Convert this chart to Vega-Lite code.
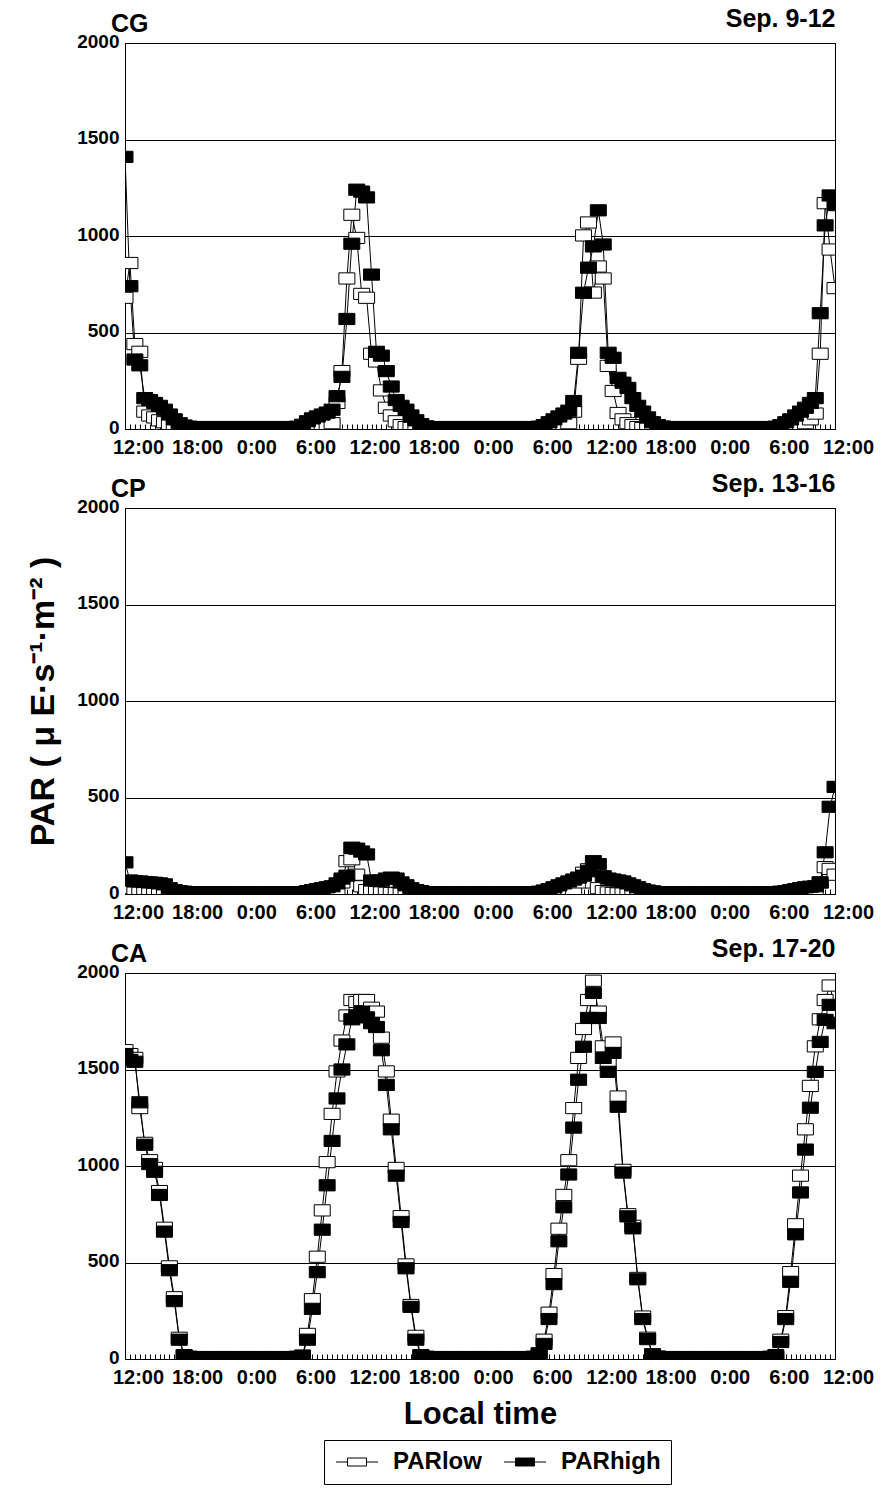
{
  "$schema": "https://vega.github.io/schema/vega-lite/v6.json",
  "background": "white",
  "padding": {"left": 26, "top": 5, "right": 2, "bottom": 5},
  "spacing": 79,
  "bounds": "flush",
  "datasets": {
    "CG": [
      {"t":0,"PARlow":680,"PARhigh":1410},{"t":0.5,"PARlow":860,"PARhigh":740},{"t":1,"PARlow":440,"PARhigh":360},{"t":1.5,"PARlow":400,"PARhigh":330},
      {"t":2,"PARlow":90,"PARhigh":160},{"t":2.5,"PARlow":70,"PARhigh":150},{"t":3,"PARlow":60,"PARhigh":135},{"t":3.5,"PARlow":45,"PARhigh":120},
      {"t":4,"PARlow":35,"PARhigh":100},{"t":4.5,"PARlow":25,"PARhigh":75},{"t":5,"PARlow":15,"PARhigh":50},{"t":5.5,"PARlow":8,"PARhigh":30},
      {"t":6,"PARlow":3,"PARhigh":18},{"t":6.5,"PARlow":0,"PARhigh":12},
      {"t":7,"PARlow":0,"PARhigh":10},{"t":7.5,"PARlow":0,"PARhigh":10},{"t":8,"PARlow":0,"PARhigh":10},{"t":8.5,"PARlow":0,"PARhigh":10},
      {"t":9,"PARlow":0,"PARhigh":10},{"t":9.5,"PARlow":0,"PARhigh":10},{"t":10,"PARlow":0,"PARhigh":10},{"t":10.5,"PARlow":0,"PARhigh":10},
      {"t":11,"PARlow":0,"PARhigh":10},{"t":11.5,"PARlow":0,"PARhigh":10},{"t":12,"PARlow":0,"PARhigh":10},{"t":12.5,"PARlow":0,"PARhigh":10},
      {"t":13,"PARlow":0,"PARhigh":10},{"t":13.5,"PARlow":0,"PARhigh":10},{"t":14,"PARlow":0,"PARhigh":10},{"t":14.5,"PARlow":0,"PARhigh":10},
      {"t":15,"PARlow":0,"PARhigh":10},{"t":15.5,"PARlow":0,"PARhigh":10},{"t":16,"PARlow":0,"PARhigh":10},{"t":16.5,"PARlow":0,"PARhigh":10},
      {"t":17,"PARlow":0,"PARhigh":10},{"t":17.5,"PARlow":0,"PARhigh":12},
      {"t":18,"PARlow":2,"PARhigh":22},{"t":18.5,"PARlow":5,"PARhigh":40},{"t":19,"PARlow":8,"PARhigh":55},{"t":19.5,"PARlow":12,"PARhigh":65},
      {"t":20,"PARlow":15,"PARhigh":75},{"t":20.5,"PARlow":20,"PARhigh":85},{"t":21,"PARlow":30,"PARhigh":100},{"t":21.5,"PARlow":135,"PARhigh":170},
      {"t":22,"PARlow":300,"PARhigh":270},{"t":22.5,"PARlow":780,"PARhigh":570},{"t":23,"PARlow":1110,"PARhigh":960},{"t":23.5,"PARlow":990,"PARhigh":1240},
      {"t":24,"PARlow":700,"PARhigh":1230},{"t":24.5,"PARlow":680,"PARhigh":1200},{"t":25,"PARlow":390,"PARhigh":800},{"t":25.5,"PARlow":350,"PARhigh":400},
      {"t":26,"PARlow":200,"PARhigh":380},{"t":26.5,"PARlow":110,"PARhigh":300},{"t":27,"PARlow":70,"PARhigh":220},{"t":27.5,"PARlow":40,"PARhigh":150},
      {"t":28,"PARlow":20,"PARhigh":120},{"t":28.5,"PARlow":10,"PARhigh":100},{"t":29,"PARlow":5,"PARhigh":70},{"t":29.5,"PARlow":2,"PARhigh":45},
      {"t":30,"PARlow":0,"PARhigh":25},{"t":30.5,"PARlow":0,"PARhigh":14},
      {"t":31,"PARlow":0,"PARhigh":10},{"t":31.5,"PARlow":0,"PARhigh":10},{"t":32,"PARlow":0,"PARhigh":10},{"t":32.5,"PARlow":0,"PARhigh":10},
      {"t":33,"PARlow":0,"PARhigh":10},{"t":33.5,"PARlow":0,"PARhigh":10},{"t":34,"PARlow":0,"PARhigh":10},{"t":34.5,"PARlow":0,"PARhigh":10},
      {"t":35,"PARlow":0,"PARhigh":10},{"t":35.5,"PARlow":0,"PARhigh":10},{"t":36,"PARlow":0,"PARhigh":10},{"t":36.5,"PARlow":0,"PARhigh":10},
      {"t":37,"PARlow":0,"PARhigh":10},{"t":37.5,"PARlow":0,"PARhigh":10},{"t":38,"PARlow":0,"PARhigh":10},{"t":38.5,"PARlow":0,"PARhigh":10},
      {"t":39,"PARlow":0,"PARhigh":10},{"t":39.5,"PARlow":0,"PARhigh":10},{"t":40,"PARlow":0,"PARhigh":10},{"t":40.5,"PARlow":0,"PARhigh":10},
      {"t":41,"PARlow":0,"PARhigh":10},{"t":41.5,"PARlow":0,"PARhigh":10},
      {"t":42,"PARlow":0,"PARhigh":12},{"t":42.5,"PARlow":2,"PARhigh":20},{"t":43,"PARlow":5,"PARhigh":35},{"t":43.5,"PARlow":10,"PARhigh":50},
      {"t":44,"PARlow":15,"PARhigh":65},{"t":44.5,"PARlow":20,"PARhigh":80},{"t":45,"PARlow":30,"PARhigh":95},{"t":45.5,"PARlow":90,"PARhigh":145},
      {"t":46,"PARlow":364,"PARhigh":395},{"t":46.5,"PARlow":1003,"PARhigh":706},{"t":47,"PARlow":1070,"PARhigh":836},{"t":47.5,"PARlow":707,"PARhigh":946},
      {"t":48,"PARlow":842,"PARhigh":1133},{"t":48.5,"PARlow":780,"PARhigh":956},{"t":49,"PARlow":327,"PARhigh":395},{"t":49.5,"PARlow":197,"PARhigh":369},
      {"t":50,"PARlow":83,"PARhigh":265},{"t":50.5,"PARlow":50,"PARhigh":240},{"t":51,"PARlow":30,"PARhigh":213},{"t":51.5,"PARlow":20,"PARhigh":160},
      {"t":52,"PARlow":10,"PARhigh":120},{"t":52.5,"PARlow":5,"PARhigh":90},{"t":53,"PARlow":2,"PARhigh":60},{"t":53.5,"PARlow":0,"PARhigh":35},
      {"t":54,"PARlow":0,"PARhigh":20},{"t":54.5,"PARlow":0,"PARhigh":13},
      {"t":55,"PARlow":0,"PARhigh":10},{"t":55.5,"PARlow":0,"PARhigh":10},{"t":56,"PARlow":0,"PARhigh":10},{"t":56.5,"PARlow":0,"PARhigh":10},
      {"t":57,"PARlow":0,"PARhigh":10},{"t":57.5,"PARlow":0,"PARhigh":10},{"t":58,"PARlow":0,"PARhigh":10},{"t":58.5,"PARlow":0,"PARhigh":10},
      {"t":59,"PARlow":0,"PARhigh":10},{"t":59.5,"PARlow":0,"PARhigh":10},{"t":60,"PARlow":0,"PARhigh":10},{"t":60.5,"PARlow":0,"PARhigh":10},
      {"t":61,"PARlow":0,"PARhigh":10},{"t":61.5,"PARlow":0,"PARhigh":10},{"t":62,"PARlow":0,"PARhigh":10},{"t":62.5,"PARlow":0,"PARhigh":10},
      {"t":63,"PARlow":0,"PARhigh":10},{"t":63.5,"PARlow":0,"PARhigh":10},{"t":64,"PARlow":0,"PARhigh":10},{"t":64.5,"PARlow":0,"PARhigh":10},
      {"t":65,"PARlow":0,"PARhigh":10},{"t":65.5,"PARlow":0,"PARhigh":10},
      {"t":66,"PARlow":0,"PARhigh":12},{"t":66.5,"PARlow":2,"PARhigh":20},{"t":67,"PARlow":5,"PARhigh":35},{"t":67.5,"PARlow":8,"PARhigh":50},
      {"t":68,"PARlow":12,"PARhigh":70},{"t":68.5,"PARlow":20,"PARhigh":90},{"t":69,"PARlow":30,"PARhigh":110},{"t":69.5,"PARlow":50,"PARhigh":135},
      {"t":70,"PARlow":80,"PARhigh":160},{"t":70.5,"PARlow":390,"PARhigh":600},{"t":71,"PARlow":1170,"PARhigh":1055},{"t":71.5,"PARlow":930,"PARhigh":1210},
      {"t":72,"PARlow":730,"PARhigh":1160}
    ],
    "CP": [
      {"t":0,"PARlow":40,"PARhigh":164},{"t":0.5,"PARlow":30,"PARhigh":70},{"t":1,"PARlow":25,"PARhigh":65},{"t":1.5,"PARlow":20,"PARhigh":65},
      {"t":2,"PARlow":15,"PARhigh":62},{"t":2.5,"PARlow":12,"PARhigh":60},{"t":3,"PARlow":10,"PARhigh":58},{"t":3.5,"PARlow":8,"PARhigh":55},
      {"t":4,"PARlow":5,"PARhigh":50},{"t":4.5,"PARlow":3,"PARhigh":30},{"t":5,"PARlow":2,"PARhigh":20},{"t":5.5,"PARlow":0,"PARhigh":15},
      {"t":6,"PARlow":0,"PARhigh":12},
      {"t":6.5,"PARlow":0,"PARhigh":8},{"t":7,"PARlow":0,"PARhigh":8},{"t":7.5,"PARlow":0,"PARhigh":8},{"t":8,"PARlow":0,"PARhigh":8},
      {"t":8.5,"PARlow":0,"PARhigh":8},{"t":9,"PARlow":0,"PARhigh":8},{"t":9.5,"PARlow":0,"PARhigh":8},{"t":10,"PARlow":0,"PARhigh":8},
      {"t":10.5,"PARlow":0,"PARhigh":8},{"t":11,"PARlow":0,"PARhigh":8},{"t":11.5,"PARlow":0,"PARhigh":8},{"t":12,"PARlow":0,"PARhigh":8},
      {"t":12.5,"PARlow":0,"PARhigh":8},{"t":13,"PARlow":0,"PARhigh":8},{"t":13.5,"PARlow":0,"PARhigh":8},{"t":14,"PARlow":0,"PARhigh":8},
      {"t":14.5,"PARlow":0,"PARhigh":8},{"t":15,"PARlow":0,"PARhigh":8},{"t":15.5,"PARlow":0,"PARhigh":8},{"t":16,"PARlow":0,"PARhigh":8},
      {"t":16.5,"PARlow":0,"PARhigh":8},{"t":17,"PARlow":0,"PARhigh":8},{"t":17.5,"PARlow":0,"PARhigh":8},
      {"t":18,"PARlow":0,"PARhigh":10},{"t":18.5,"PARlow":0,"PARhigh":15},{"t":19,"PARlow":2,"PARhigh":20},{"t":19.5,"PARlow":3,"PARhigh":25},
      {"t":20,"PARlow":5,"PARhigh":30},{"t":20.5,"PARlow":8,"PARhigh":35},{"t":21,"PARlow":10,"PARhigh":40},{"t":21.5,"PARlow":20,"PARhigh":55},
      {"t":22,"PARlow":60,"PARhigh":80},{"t":22.5,"PARlow":170,"PARhigh":95},{"t":23,"PARlow":180,"PARhigh":240},{"t":23.5,"PARlow":100,"PARhigh":235},
      {"t":24,"PARlow":40,"PARhigh":220},{"t":24.5,"PARlow":20,"PARhigh":205},{"t":25,"PARlow":15,"PARhigh":70},{"t":25.5,"PARlow":10,"PARhigh":68},
      {"t":26,"PARlow":8,"PARhigh":70},{"t":26.5,"PARlow":6,"PARhigh":80},{"t":27,"PARlow":5,"PARhigh":85},{"t":27.5,"PARlow":4,"PARhigh":80},
      {"t":28,"PARlow":3,"PARhigh":60},{"t":28.5,"PARlow":2,"PARhigh":45},{"t":29,"PARlow":1,"PARhigh":30},{"t":29.5,"PARlow":0,"PARhigh":20},
      {"t":30,"PARlow":0,"PARhigh":15},
      {"t":30.5,"PARlow":0,"PARhigh":8},{"t":31,"PARlow":0,"PARhigh":8},{"t":31.5,"PARlow":0,"PARhigh":8},{"t":32,"PARlow":0,"PARhigh":8},
      {"t":32.5,"PARlow":0,"PARhigh":8},{"t":33,"PARlow":0,"PARhigh":8},{"t":33.5,"PARlow":0,"PARhigh":8},{"t":34,"PARlow":0,"PARhigh":8},
      {"t":34.5,"PARlow":0,"PARhigh":8},{"t":35,"PARlow":0,"PARhigh":8},{"t":35.5,"PARlow":0,"PARhigh":8},{"t":36,"PARlow":0,"PARhigh":8},
      {"t":36.5,"PARlow":0,"PARhigh":8},{"t":37,"PARlow":0,"PARhigh":8},{"t":37.5,"PARlow":0,"PARhigh":8},{"t":38,"PARlow":0,"PARhigh":8},
      {"t":38.5,"PARlow":0,"PARhigh":8},{"t":39,"PARlow":0,"PARhigh":8},{"t":39.5,"PARlow":0,"PARhigh":8},{"t":40,"PARlow":0,"PARhigh":8},
      {"t":40.5,"PARlow":0,"PARhigh":8},{"t":41,"PARlow":0,"PARhigh":8},{"t":41.5,"PARlow":0,"PARhigh":8},
      {"t":42,"PARlow":0,"PARhigh":12},{"t":42.5,"PARlow":1,"PARhigh":18},{"t":43,"PARlow":2,"PARhigh":25},{"t":43.5,"PARlow":3,"PARhigh":35},
      {"t":44,"PARlow":5,"PARhigh":45},{"t":44.5,"PARlow":8,"PARhigh":55},{"t":45,"PARlow":10,"PARhigh":65},{"t":45.5,"PARlow":20,"PARhigh":75},
      {"t":46,"PARlow":60,"PARhigh":85},{"t":46.5,"PARlow":110,"PARhigh":95},{"t":47,"PARlow":128,"PARhigh":120},{"t":47.5,"PARlow":60,"PARhigh":170},
      {"t":48,"PARlow":30,"PARhigh":155},{"t":48.5,"PARlow":15,"PARhigh":92},{"t":49,"PARlow":8,"PARhigh":80},{"t":49.5,"PARlow":5,"PARhigh":75},
      {"t":50,"PARlow":3,"PARhigh":70},{"t":50.5,"PARlow":2,"PARhigh":65},{"t":51,"PARlow":1,"PARhigh":55},{"t":51.5,"PARlow":0,"PARhigh":45},
      {"t":52,"PARlow":0,"PARhigh":35},{"t":52.5,"PARlow":0,"PARhigh":25},{"t":53,"PARlow":0,"PARhigh":18},{"t":53.5,"PARlow":0,"PARhigh":14},
      {"t":54,"PARlow":0,"PARhigh":10},
      {"t":54.5,"PARlow":0,"PARhigh":8},{"t":55,"PARlow":0,"PARhigh":8},{"t":55.5,"PARlow":0,"PARhigh":8},{"t":56,"PARlow":0,"PARhigh":8},
      {"t":56.5,"PARlow":0,"PARhigh":8},{"t":57,"PARlow":0,"PARhigh":8},{"t":57.5,"PARlow":0,"PARhigh":8},{"t":58,"PARlow":0,"PARhigh":8},
      {"t":58.5,"PARlow":0,"PARhigh":8},{"t":59,"PARlow":0,"PARhigh":8},{"t":59.5,"PARlow":0,"PARhigh":8},{"t":60,"PARlow":0,"PARhigh":8},
      {"t":60.5,"PARlow":0,"PARhigh":8},{"t":61,"PARlow":0,"PARhigh":8},{"t":61.5,"PARlow":0,"PARhigh":8},{"t":62,"PARlow":0,"PARhigh":8},
      {"t":62.5,"PARlow":0,"PARhigh":8},{"t":63,"PARlow":0,"PARhigh":8},{"t":63.5,"PARlow":0,"PARhigh":8},{"t":64,"PARlow":0,"PARhigh":8},
      {"t":64.5,"PARlow":0,"PARhigh":8},{"t":65,"PARlow":0,"PARhigh":8},{"t":65.5,"PARlow":0,"PARhigh":8},
      {"t":66,"PARlow":0,"PARhigh":10},{"t":66.5,"PARlow":0,"PARhigh":12},{"t":67,"PARlow":0,"PARhigh":15},{"t":67.5,"PARlow":1,"PARhigh":20},
      {"t":68,"PARlow":2,"PARhigh":25},{"t":68.5,"PARlow":3,"PARhigh":30},{"t":69,"PARlow":5,"PARhigh":35},{"t":69.5,"PARlow":8,"PARhigh":38},
      {"t":70,"PARlow":10,"PARhigh":40},{"t":70.5,"PARlow":60,"PARhigh":60},{"t":71,"PARlow":139,"PARhigh":216},{"t":71.5,"PARlow":130,"PARhigh":452},
      {"t":72,"PARlow":100,"PARhigh":555}
    ],
    "CA": [
      {"t":0,"PARlow":1600,"PARhigh":1580},{"t":0.5,"PARlow":1580,"PARhigh":1550},{"t":1,"PARlow":1560,"PARhigh":1540},{"t":1.5,"PARlow":1300,"PARhigh":1330},
      {"t":2,"PARlow":1120,"PARhigh":1110},{"t":2.5,"PARlow":1030,"PARhigh":1010},{"t":3,"PARlow":990,"PARhigh":970},{"t":3.5,"PARlow":870,"PARhigh":850},
      {"t":4,"PARlow":680,"PARhigh":660},{"t":4.5,"PARlow":480,"PARhigh":460},{"t":5,"PARlow":320,"PARhigh":300},{"t":5.5,"PARlow":110,"PARhigh":100},
      {"t":6,"PARlow":20,"PARhigh":18},{"t":6.5,"PARlow":0,"PARhigh":12},
      {"t":7,"PARlow":0,"PARhigh":10},{"t":7.5,"PARlow":0,"PARhigh":10},{"t":8,"PARlow":0,"PARhigh":10},{"t":8.5,"PARlow":0,"PARhigh":10},
      {"t":9,"PARlow":0,"PARhigh":10},{"t":9.5,"PARlow":0,"PARhigh":10},{"t":10,"PARlow":0,"PARhigh":10},{"t":10.5,"PARlow":0,"PARhigh":10},
      {"t":11,"PARlow":0,"PARhigh":10},{"t":11.5,"PARlow":0,"PARhigh":10},{"t":12,"PARlow":0,"PARhigh":10},{"t":12.5,"PARlow":0,"PARhigh":10},
      {"t":13,"PARlow":0,"PARhigh":10},{"t":13.5,"PARlow":0,"PARhigh":10},{"t":14,"PARlow":0,"PARhigh":10},{"t":14.5,"PARlow":0,"PARhigh":10},
      {"t":15,"PARlow":0,"PARhigh":10},{"t":15.5,"PARlow":0,"PARhigh":10},{"t":16,"PARlow":0,"PARhigh":10},{"t":16.5,"PARlow":0,"PARhigh":10},
      {"t":17,"PARlow":0,"PARhigh":10},{"t":17.5,"PARlow":0,"PARhigh":12},
      {"t":18,"PARlow":15,"PARhigh":18},{"t":18.5,"PARlow":130,"PARhigh":100},{"t":19,"PARlow":310,"PARhigh":260},{"t":19.5,"PARlow":530,"PARhigh":450},
      {"t":20,"PARlow":770,"PARhigh":670},{"t":20.5,"PARlow":1020,"PARhigh":900},{"t":21,"PARlow":1270,"PARhigh":1130},{"t":21.5,"PARlow":1490,"PARhigh":1350},
      {"t":22,"PARlow":1650,"PARhigh":1500},{"t":22.5,"PARlow":1780,"PARhigh":1630},{"t":23,"PARlow":1860,"PARhigh":1760},{"t":23.5,"PARlow":1850,"PARhigh":1780},
      {"t":24,"PARlow":1860,"PARhigh":1800},{"t":24.5,"PARlow":1860,"PARhigh":1770},{"t":25,"PARlow":1820,"PARhigh":1740},{"t":25.5,"PARlow":1800,"PARhigh":1720},
      {"t":26,"PARlow":1665,"PARhigh":1600},{"t":26.5,"PARlow":1490,"PARhigh":1420},{"t":27,"PARlow":1240,"PARhigh":1190},{"t":27.5,"PARlow":990,"PARhigh":950},
      {"t":28,"PARlow":740,"PARhigh":710},{"t":28.5,"PARlow":490,"PARhigh":470},{"t":29,"PARlow":280,"PARhigh":270},{"t":29.5,"PARlow":120,"PARhigh":100},
      {"t":30,"PARlow":20,"PARhigh":18},{"t":30.5,"PARlow":0,"PARhigh":12},
      {"t":31,"PARlow":0,"PARhigh":10},{"t":31.5,"PARlow":0,"PARhigh":10},{"t":32,"PARlow":0,"PARhigh":10},{"t":32.5,"PARlow":0,"PARhigh":10},
      {"t":33,"PARlow":0,"PARhigh":10},{"t":33.5,"PARlow":0,"PARhigh":10},{"t":34,"PARlow":0,"PARhigh":10},{"t":34.5,"PARlow":0,"PARhigh":10},
      {"t":35,"PARlow":0,"PARhigh":10},{"t":35.5,"PARlow":0,"PARhigh":10},{"t":36,"PARlow":0,"PARhigh":10},{"t":36.5,"PARlow":0,"PARhigh":10},
      {"t":37,"PARlow":0,"PARhigh":10},{"t":37.5,"PARlow":0,"PARhigh":10},{"t":38,"PARlow":0,"PARhigh":10},{"t":38.5,"PARlow":0,"PARhigh":10},
      {"t":39,"PARlow":0,"PARhigh":10},{"t":39.5,"PARlow":0,"PARhigh":10},{"t":40,"PARlow":0,"PARhigh":10},{"t":40.5,"PARlow":0,"PARhigh":10},
      {"t":41,"PARlow":0,"PARhigh":10},{"t":41.5,"PARlow":0,"PARhigh":12},
      {"t":42,"PARlow":30,"PARhigh":26},{"t":42.5,"PARlow":100,"PARhigh":78},{"t":43,"PARlow":240,"PARhigh":207},{"t":43.5,"PARlow":440,"PARhigh":388},
      {"t":44,"PARlow":675,"PARhigh":610},{"t":44.5,"PARlow":850,"PARhigh":786},{"t":45,"PARlow":1030,"PARhigh":956},{"t":45.5,"PARlow":1300,"PARhigh":1199},
      {"t":46,"PARlow":1560,"PARhigh":1447},{"t":46.5,"PARlow":1710,"PARhigh":1618},{"t":47,"PARlow":1860,"PARhigh":1767},{"t":47.5,"PARlow":1960,"PARhigh":1897},
      {"t":48,"PARlow":1800,"PARhigh":1767},{"t":48.5,"PARlow":1620,"PARhigh":1560},{"t":49,"PARlow":1530,"PARhigh":1488},{"t":49.5,"PARlow":1640,"PARhigh":1586},
      {"t":50,"PARlow":1360,"PARhigh":1307},{"t":50.5,"PARlow":980,"PARhigh":966},{"t":51,"PARlow":750,"PARhigh":739},{"t":51.5,"PARlow":690,"PARhigh":677},
      {"t":52,"PARlow":420,"PARhigh":413},{"t":52.5,"PARlow":220,"PARhigh":207},{"t":53,"PARlow":110,"PARhigh":103},{"t":53.5,"PARlow":25,"PARhigh":21},
      {"t":54,"PARlow":0,"PARhigh":13},
      {"t":54.5,"PARlow":0,"PARhigh":10},{"t":55,"PARlow":0,"PARhigh":10},{"t":55.5,"PARlow":0,"PARhigh":10},{"t":56,"PARlow":0,"PARhigh":10},
      {"t":56.5,"PARlow":0,"PARhigh":10},{"t":57,"PARlow":0,"PARhigh":10},{"t":57.5,"PARlow":0,"PARhigh":10},{"t":58,"PARlow":0,"PARhigh":10},
      {"t":58.5,"PARlow":0,"PARhigh":10},{"t":59,"PARlow":0,"PARhigh":10},{"t":59.5,"PARlow":0,"PARhigh":10},{"t":60,"PARlow":0,"PARhigh":10},
      {"t":60.5,"PARlow":0,"PARhigh":10},{"t":61,"PARlow":0,"PARhigh":10},{"t":61.5,"PARlow":0,"PARhigh":10},{"t":62,"PARlow":0,"PARhigh":10},
      {"t":62.5,"PARlow":0,"PARhigh":10},{"t":63,"PARlow":0,"PARhigh":10},{"t":63.5,"PARlow":0,"PARhigh":10},{"t":64,"PARlow":0,"PARhigh":10},
      {"t":64.5,"PARlow":0,"PARhigh":10},{"t":65,"PARlow":0,"PARhigh":10},{"t":65.5,"PARlow":0,"PARhigh":12},
      {"t":66,"PARlow":10,"PARhigh":20},{"t":66.5,"PARlow":100,"PARhigh":88},{"t":67,"PARlow":222,"PARhigh":207},{"t":67.5,"PARlow":450,"PARhigh":400},
      {"t":68,"PARlow":698,"PARhigh":646},{"t":68.5,"PARlow":950,"PARhigh":863},{"t":69,"PARlow":1190,"PARhigh":1085},{"t":69.5,"PARlow":1415,"PARhigh":1302},
      {"t":70,"PARlow":1620,"PARhigh":1488},{"t":70.5,"PARlow":1760,"PARhigh":1643},{"t":71,"PARlow":1860,"PARhigh":1757},{"t":71.5,"PARlow":1935,"PARhigh":1835},
      {"t":72,"PARlow":1800,"PARhigh":1740}
    ]
  },
  "vconcat": [
    {
      "data": {"name": "CG"},
      "width": 710, "height": 386,
      "title": {"text": "CG", "anchor": "start", "frame": "group", "fontSize": 25, "dx": -14, "dy": 35},
      "transform": [{"fold": ["PARlow", "PARhigh"], "as": ["series", "par"]}],
      "layer": [
        {
          "mark": {"type": "line", "color": "black", "strokeWidth": 1, "clip": true},
          "encoding": {
            "x": {"field": "t", "type": "quantitative", "scale": {"domain": [0, 72], "nice": false},
              "axis": {"title": null, "tickCount": 144, "labelExpr": "datum.value % 6 === 0 ? ((datum.value + 12) % 24) + ':00' : ''", "labelOverlap": false, "labelFlush": false, "labelBound": false, "grid": false, "tickSize": -5, "labelPadding": 13, "labelOffset": 13, "labelFontSize": 20}},
            "y": {"field": "par", "type": "quantitative", "scale": {"domain": [0, 2000], "nice": false},
              "axis": {"title": null, "format": "d", "values": [0, 500, 1000, 1500, 2000], "grid": true, "ticks": false, "labelFontSize": 19, "labelPadding": 6, "labelOffset": -2}},
            "detail": {"field": "series"}
          }
        },
        {
          "mark": {"type": "point", "shape": "M-1,-0.7H1V0.7H-1Z", "size": 256, "filled": true, "stroke": "black", "strokeWidth": 1, "opacity": 1, "clip": true},
          "encoding": {
            "x": {"field": "t", "type": "quantitative",
              "axis": {"orient": "top", "labels": false, "ticks": false, "domain": false, "grid": false, "title": "Sep. 9-12", "titleAnchor": "end", "titleFontSize": 25, "titlePadding": 12}},
            "y": {"field": "par", "type": "quantitative"},
            "fill": {"field": "series", "type": "nominal", "scale": {"domain": ["PARlow", "PARhigh"], "range": ["white", "black"]},
              "legend": {"orient": "none", "legendX": 199, "legendY": 1397, "direction": "horizontal", "title": null, "symbolType": "M-2.1,0H-0.95M0.95,0H2.1M-0.95,-0.4H0.95V0.4H-0.95Z", "symbolSize": 400, "symbolOffset": 11, "symbolStrokeColor": "black", "symbolStrokeWidth": 1, "labelFontSize": 24, "labelFontWeight": "bold", "labelOffset": 24, "columnPadding": 20, "strokeColor": "black", "padding": 10}},
            "order": {"field": "series", "sort": "descending"}
          }
        }
      ],
      "resolve": {"axis": {"x": "independent"}}
    },
    {
      "data": {"name": "CP"},
      "width": 710, "height": 386,
      "title": {"text": "CP", "anchor": "start", "frame": "group", "fontSize": 25, "dx": -14, "dy": 35},
      "transform": [{"fold": ["PARlow", "PARhigh"], "as": ["series", "par"]}],
      "layer": [
        {
          "mark": {"type": "line", "color": "black", "strokeWidth": 1, "clip": true},
          "encoding": {
            "x": {"field": "t", "type": "quantitative", "scale": {"domain": [0, 72], "nice": false},
              "axis": {"title": null, "tickCount": 144, "labelExpr": "datum.value % 6 === 0 ? ((datum.value + 12) % 24) + ':00' : ''", "labelOverlap": false, "labelFlush": false, "labelBound": false, "grid": false, "tickSize": -5, "labelPadding": 13, "labelOffset": 13, "labelFontSize": 20}},
            "y": {"field": "par", "type": "quantitative", "scale": {"domain": [0, 2000], "nice": false},
              "axis": {"title": "PAR ( μ E·s⁻¹·m⁻² )", "titleFontSize": 34, "titlePadding": 16, "format": "d", "values": [0, 500, 1000, 1500, 2000], "grid": true, "ticks": false, "labelFontSize": 19, "labelPadding": 6, "labelOffset": -2}},
            "detail": {"field": "series"}
          }
        },
        {
          "mark": {"type": "point", "shape": "M-1,-0.7H1V0.7H-1Z", "size": 256, "filled": true, "stroke": "black", "strokeWidth": 1, "opacity": 1, "clip": true},
          "encoding": {
            "x": {"field": "t", "type": "quantitative",
              "axis": {"orient": "top", "labels": false, "ticks": false, "domain": false, "grid": false, "title": "Sep. 13-16", "titleAnchor": "end", "titleFontSize": 25, "titlePadding": 12}},
            "y": {"field": "par", "type": "quantitative"},
            "fill": {"field": "series", "type": "nominal", "scale": {"domain": ["PARlow", "PARhigh"], "range": ["white", "black"]},
              "legend": {"orient": "none", "legendX": 199, "legendY": 1397, "direction": "horizontal", "title": null, "symbolType": "M-2.1,0H-0.95M0.95,0H2.1M-0.95,-0.4H0.95V0.4H-0.95Z", "symbolSize": 400, "symbolOffset": 11, "symbolStrokeColor": "black", "symbolStrokeWidth": 1, "labelFontSize": 24, "labelFontWeight": "bold", "labelOffset": 24, "columnPadding": 20, "strokeColor": "black", "padding": 10}},
            "order": {"field": "series", "sort": "descending"}
          }
        }
      ],
      "resolve": {"axis": {"x": "independent"}}
    },
    {
      "data": {"name": "CA"},
      "width": 710, "height": 386,
      "title": {"text": "CA", "anchor": "start", "frame": "group", "fontSize": 25, "dx": -14, "dy": 35},
      "transform": [{"fold": ["PARlow", "PARhigh"], "as": ["series", "par"]}],
      "layer": [
        {
          "mark": {"type": "line", "color": "black", "strokeWidth": 1, "clip": true},
          "encoding": {
            "x": {"field": "t", "type": "quantitative", "scale": {"domain": [0, 72], "nice": false},
              "axis": {"title": "Local time", "titleFontSize": 31, "titlePadding": 12, "tickCount": 144, "labelExpr": "datum.value % 6 === 0 ? ((datum.value + 12) % 24) + ':00' : ''", "labelOverlap": false, "labelFlush": false, "labelBound": false, "grid": false, "tickSize": -5, "labelPadding": 13, "labelOffset": 13, "labelFontSize": 20}},
            "y": {"field": "par", "type": "quantitative", "scale": {"domain": [0, 2000], "nice": false},
              "axis": {"title": null, "format": "d", "values": [0, 500, 1000, 1500, 2000], "grid": true, "ticks": false, "labelFontSize": 19, "labelPadding": 6, "labelOffset": -2}},
            "detail": {"field": "series"}
          }
        },
        {
          "mark": {"type": "point", "shape": "M-1,-0.7H1V0.7H-1Z", "size": 256, "filled": true, "stroke": "black", "strokeWidth": 1, "opacity": 1, "clip": true},
          "encoding": {
            "x": {"field": "t", "type": "quantitative",
              "axis": {"orient": "top", "labels": false, "ticks": false, "domain": false, "grid": false, "title": "Sep. 17-20", "titleAnchor": "end", "titleFontSize": 25, "titlePadding": 12}},
            "y": {"field": "par", "type": "quantitative"},
            "fill": {"field": "series", "type": "nominal", "scale": {"domain": ["PARlow", "PARhigh"], "range": ["white", "black"]},
              "legend": {"orient": "none", "legendX": 199, "legendY": 1397, "direction": "horizontal", "title": null, "symbolType": "M-2.1,0H-0.95M0.95,0H2.1M-0.95,-0.4H0.95V0.4H-0.95Z", "symbolSize": 400, "symbolOffset": 11, "symbolStrokeColor": "black", "symbolStrokeWidth": 1, "labelFontSize": 24, "labelFontWeight": "bold", "labelOffset": 24, "columnPadding": 20, "strokeColor": "black", "padding": 10}},
            "order": {"field": "series", "sort": "descending"}
          }
        }
      ],
      "resolve": {"axis": {"x": "independent"}}
    }
  ],
  "config": {
    "font": "Liberation Sans",
    "view": {"stroke": "black", "strokeWidth": 1},
    "axis": {"labelFont": "Liberation Sans", "labelFontWeight": "bold", "labelColor": "black", "titleFont": "Liberation Sans", "titleFontWeight": "bold", "titleColor": "black", "domainColor": "black", "domainWidth": 1, "tickColor": "black", "tickWidth": 1, "gridColor": "black", "gridOpacity": 1, "gridWidth": 1},
    "title": {"font": "Liberation Sans", "fontWeight": "bold", "color": "black"},
    "legend": {"labelFont": "Liberation Sans", "labelColor": "black"}
  }
}
